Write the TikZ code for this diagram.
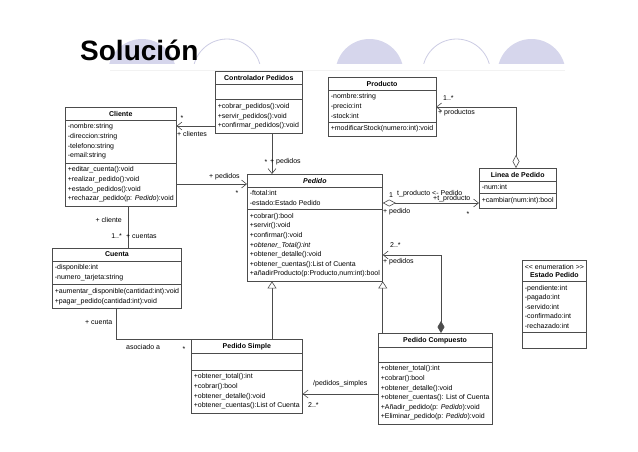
\documentclass[tikz,border=0pt]{standalone}
\usepackage{fontspec}
\setmainfont{Liberation Sans}
\usepackage{tikz}
\usetikzlibrary{arrows.meta,shapes.multipart}
\definecolor{decolav}{RGB}{214,214,236}
\definecolor{decoline}{RGB}{204,204,228}
\tikzset{
  umlclass/.style={rectangle split, rectangle split parts=3,
    rectangle split part align={center,left,left},
    draw=black!70, line width=0.6pt, fill=white,
    align=left, anchor=north west, inner xsep=2.5pt, inner ysep=3.5pt,
    font=\fontsize{7}{9.6}\selectfont},
  assoc/.style={draw=black!70, line width=0.6pt},
  nav/.style={-{Straight Barb[length=5pt,width=8pt]}},
  gen/.style={-{Triangle[open,fill=white,length=7pt,width=9pt]}},
  aggnav/.style={{Diamond[open,fill=white,length=13pt,width=7pt]}-{Straight Barb[length=5pt,width=8pt]}},
  compnav/.style={{Diamond[length=12pt,width=7pt]}-{Straight Barb[length=5pt,width=8pt]}},
  lbl/.style={font=\fontsize{7}{8}\selectfont, inner sep=0pt}
}

\begin{document}
\begin{tikzpicture}[x=1pt,y=-1pt]
            \useasboundingbox[fill=white] (0,0) rectangle (638,451);

            % half discs behind the title
            \begin{scope}
              \clip (0,0) rectangle (638,63);
              \fill[decolav] (142,73) circle[radius=34];
              \draw[decoline, line width=0.8pt] (227,73) circle[radius=34];
              \fill[decolav] (369.5,73) circle[radius=34];
              \draw[decoline, line width=0.8pt] (456.5,73) circle[radius=34];
              \fill[decolav] (531.5,73) circle[radius=34];
            \end{scope}
            \draw[black!5] (110,70) -- (565,70);
            \node[anchor=base west, inner sep=0pt, font=\fontsize{28}{30}\selectfont\bfseries] (title) at (80,60) {Solución};

            % classes
            \node[umlclass, minimum width=87pt] (ctrl) at (215,71)
              {\textbf{Controlador Pedidos}
               \nodepart{two}\rule{0pt}{8pt}
               \nodepart{three}+cobrar\_pedidos():void\\+servir\_pedidos():void\\+confirmar\_pedidos():void};
            \node[umlclass, minimum width=108pt] (cliente) at (65,107)
              {\textbf{Cliente}
               \nodepart{two}-nombre:string\\-direccion:string\\-telefono:string\\-email:string
               \nodepart{three}+editar\_cuenta():void\\+realizar\_pedido():void\\+estado\_pedidos():void\\+rechazar\_pedido(p: \textit{Pedido}):void};
            \node[umlclass, minimum width=107pt] (producto) at (328,77)
              {\textbf{Producto}
               \nodepart{two}-nombre:string\\-precio:int\\-stock:int
               \nodepart{three}+modificarStock(numero:int):void};
            \node[umlclass, minimum width=76pt] (linea) at (479,168)
              {\textbf{Linea de Pedido}
               \nodepart{two}-num:int
               \nodepart{three}+cambiar(num:int):bool};
            \node[umlclass, minimum width=134pt] (pedido) at (247,174)
              {\textbf{\textit{Pedido}}
               \nodepart{two}-ftotal:int\\-estado:Estado Pedido
               \nodepart{three}+cobrar():bool\\+servir():void\\+confirmar():void\\\textit{+obtener\_Total():int}\\+obtener\_detalle():void\\+obtener\_cuentas():List of Cuenta\\+añadirProducto(p:Producto,num:int):bool};
            \node[umlclass, minimum width=127pt] (cuenta) at (52,248)
              {\textbf{Cuenta}
               \nodepart{two}-disponible:int\\-numero\_tarjeta:string
               \nodepart{three}+aumentar\_disponible(cantidad:int):void\\+pagar\_pedido(cantidad:int):void};
            \node[umlclass, minimum width=110pt] (psimple) at (191,339)
              {\textbf{Pedido Simple}
               \nodepart{two}\rule{0pt}{9pt}
               \nodepart{three}+obtener\_total():int\\+cobrar():bool\\+obtener\_detalle():void\\+obtener\_cuentas():List of Cuenta};
            \node[umlclass, minimum width=113pt] (pcomp) at (378,333)
              {\textbf{Pedido Compuesto}
               \nodepart{two}\rule{0pt}{7pt}
               \nodepart{three}+obtener\_total():int\\+cobrar():bool\\+obtener\_detalle():void\\+obtener\_cuentas(): List of Cuenta\\+Añadir\_pedido(p: \textit{Pedido}):void\\+Eliminar\_pedido(p: \textit{Pedido}):void};
            \node[umlclass, minimum width=63pt] (estado) at (522,260)
              {\shortstack{<{}< enumeration >{}>\\\textbf{Estado Pedido}}
               \nodepart{two}-pendiente:int\\-pagado:int\\-servido:int\\-confirmado:int\\-rechazado:int
               \nodepart{three}\rule{0pt}{8pt}};

            % end points of the connectors
            \coordinate (c-cli) at ([yshift=-55pt]ctrl.north west);
            \coordinate (c-ped) at ([xshift=57pt]ctrl.south west);
            \coordinate (cl-ped) at ([yshift=-77pt]cliente.north east);
            \coordinate (cl-cu) at ([xshift=63pt]cliente.south west);
            \coordinate (cu-ps) at ([xshift=64pt]cuenta.south west);
            \coordinate (pc-ped) at ([xshift=63pt]pcomp.north west);
            \coordinate (ped-pc) at ([yshift=-81pt]pedido.north east);
            \coordinate (ped-lin) at ([yshift=-29pt]pedido.north east);
            \coordinate (lin-pro) at ([xshift=37pt]linea.north west);
            \coordinate (pro-lin) at ([yshift=-30pt]producto.north east);
            \coordinate (pc-ps) at ([yshift=-61pt]pcomp.north west);

            % associations
            \draw[assoc, nav] (c-cli) -- (c-cli -| cliente.east);
            \draw[assoc, nav] (c-ped) -- (c-ped |- pedido.north);
            \draw[assoc, nav] (cl-ped) -- (cl-ped -| pedido.west);
            \draw[assoc] (cl-cu) -- (cl-cu |- cuenta.north);
            \draw[assoc] (cu-ps) |- (psimple.north west);
            \draw[assoc, aggnav] (ped-lin) -- (ped-lin -| linea.west);
            \draw[assoc, aggnav] (lin-pro) |- (pro-lin);
            \draw[assoc, compnav] (pc-ped) |- (ped-pc);
            \draw[assoc, nav] (pc-ps) -- (pc-ps -| psimple.east);

            % generalizations
            \draw[assoc, gen] (c-ped |- psimple.north) -- (c-ped |- pedido.south);
            \draw[assoc, gen] (pedido.south east |- pcomp.north) -- (pedido.south east);

            % role names and multiplicities
            \node[lbl] (m-clientes) at (182,118.5) {*};
            \node[lbl, anchor=west] (r-clientes) at (177,134) {+ clientes};
            \node[lbl] (m-ctrlped) at (266,162.5) {*};
            \node[lbl, anchor=west] (r-ctrlped) at (270,162) {+ pedidos};
            \node[lbl, anchor=west] (r-cliped) at (209,177) {+ pedidos};
            \node[lbl] (m-cliped) at (237,193.5) {*};
            \node[lbl, anchor=east] (r-cliente) at (122,220) {+ cliente};
            \node[lbl, anchor=east] (m-cuentas) at (122,236) {1..*};
            \node[lbl, anchor=west] (r-cuentas) at (126,236) {+ cuentas};
            \node[lbl, anchor=west] (r-cuenta) at (85,322) {+ cuenta};
            \node[lbl, anchor=west] (a-asociado) at (126,347) {asociado a};
            \node[lbl] (m-asociado) at (184,349) {*};
            \node[lbl, anchor=west] (m-productos) at (443,98) {1..*};
            \node[lbl, anchor=west] (r-productos) at (438,113) {+ productos};
            \node[lbl] (m-pedido) at (391,195) {1};
            \node[lbl, anchor=west] (a-tproducto) at (397,194) {t\_producto <- Pedido};
            \node[lbl, anchor=west] (r-tproducto) at (433,199) {+t\_producto};
            \node[lbl, anchor=west] (r-pedido) at (383,212) {+ pedido};
            \node[lbl] (m-tproducto) at (468,214.5) {*};
            \node[lbl, anchor=west] (m-pedidos) at (390,245) {2..*};
            \node[lbl, anchor=west] (r-pedidos) at (383,262) {+ pedidos};
            \node[lbl, anchor=west] (r-psimples) at (313,384) {/pedidos\_simples};
            \node[lbl, anchor=west] (m-psimples) at (308,405) {2..*};
\end{tikzpicture}
\end{document}
